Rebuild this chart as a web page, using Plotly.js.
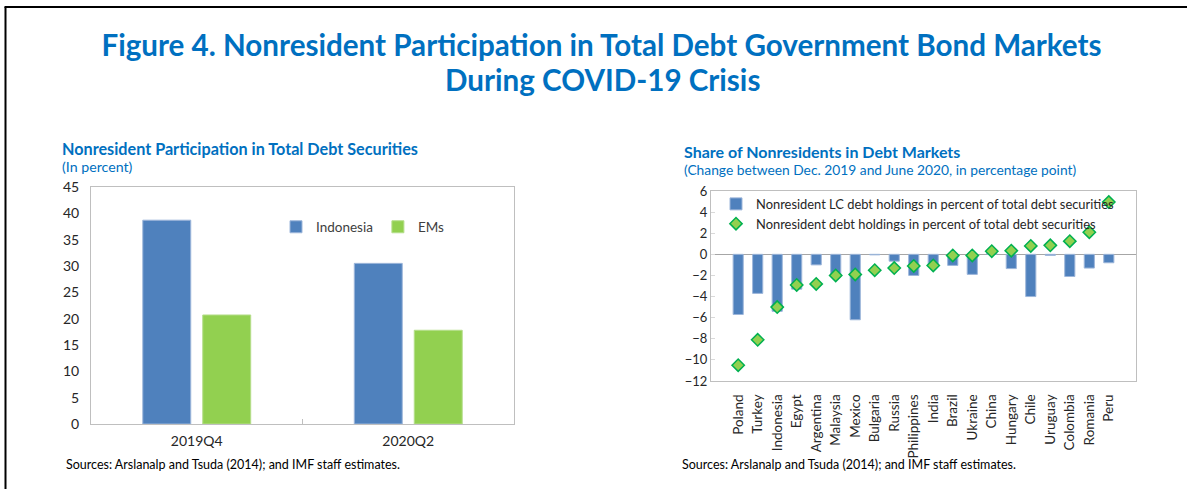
<!DOCTYPE html>
<html>
<head>
<meta charset="utf-8">
<script src="https://cdn.plot.ly/plotly-3.0.1.min.js"></script>
<style>
  html, body { margin: 0; padding: 0; background: #fff; }
  #chart { width: 1187px; height: 489px; }
</style>
</head>
<body>
<div id="chart"></div>
<script>
// ---- Data ----
const periods = ['2019Q4', '2020Q2'];
const indonesiaShare = [38.7, 30.5];
const emsShare = [20.7, 17.8];

const countries = ['Poland', 'Turkey', 'Indonesia', 'Egypt', 'Argentina', 'Malaysia', 'Mexico',
  'Bulgaria', 'Russia', 'Philippines', 'India', 'Brazil', 'Ukraine', 'China', 'Hungary',
  'Chile', 'Uruguay', 'Colombia', 'Romania', 'Peru'];
const lcDebtChange = [-5.7, -3.7, -5.4, -3.3, -1.0, -1.95, -6.2, -0.05, -0.65, -2.0,
  -1.0, -1.05, -1.9, 0.2, -1.35, -4.0, -0.1, -2.1, -1.3, -0.8];
const totalDebtChange = [-10.5, -8.1, -5.0, -2.9, -2.8, -2.0, -1.9, -1.5, -1.3, -1.1,
  -1.05, -0.1, -0.1, 0.3, 0.35, 0.8, 0.85, 1.25, 2.1, 4.95];

const leftTitle = 'Nonresident Participation in Total Debt Securities';
const leftSub = '(In percent)';
const rightTitle = 'Share of Nonresidents in Debt Markets';
const rightSub = '(Change between Dec. 2019 and June 2020, in percentage point)';
const sourceNote = 'Sources: Arslanalp and Tsuda (2014); and IMF staff estimates.';
const mainTitle1 = 'Figure 4. Nonresident Participation in Total Debt Government Bond Markets';
const mainTitle2 = 'During COVID-19 Crisis';

// ---- Style ----
const W = 1187, H = 489;
const FONT = 'Lato, "Open Sans", sans-serif';
const BLUE_T = '#0070C0';
const BAR_BLUE = '#4F81BD';
const BAR_GREEN = '#92D050';
const TXT = '#262626';
const px = v => v / W;
const py = v => 1 - v / H;

const traces = [
  { type: 'bar', x: periods, y: indonesiaShare, name: 'Indonesia', xaxis: 'x', yaxis: 'y',
    marker: { color: BAR_BLUE, line: { color: '#9DB6DA', width: 1 } }, legend: 'legend' },
  { type: 'bar', x: periods, y: emsShare, name: 'EMs', xaxis: 'x', yaxis: 'y',
    marker: { color: BAR_GREEN, line: { color: '#B5DE8A', width: 1 } }, legend: 'legend' },
  { type: 'bar', x: countries, y: lcDebtChange, name: 'Nonresident LC debt holdings in percent of total debt securities',
    xaxis: 'x2', yaxis: 'y2', width: 0.52,
    marker: { color: BAR_BLUE, line: { color: '#9DB6DA', width: 1 } }, legend: 'legend2' },
  { type: 'scatter', mode: 'markers', x: countries, y: totalDebtChange,
    name: 'Nonresident debt holdings in percent of total debt securities',
    xaxis: 'x2', yaxis: 'y2',
    marker: { symbol: 'diamond', size: 9.5, color: BAR_GREEN, line: { color: '#00B050', width: 1.5 } },
    legend: 'legend2' }
];

const axisBase = {
  showline: true, mirror: true, linecolor: '#BFBFBF', linewidth: 1,
  showgrid: false, zeroline: false, fixedrange: true,
  tickfont: { family: FONT, size: 14, color: TXT }
};

const layout = {
  width: W, height: H,
  margin: { l: 0, r: 0, t: 0, b: 0 },
  paper_bgcolor: '#fff', plot_bgcolor: '#fff',
  barmode: 'group', bargap: 0.433, bargroupgap: 0.2,
  font: { family: FONT, color: TXT },
  title: { text: mainTitle1, x: px(601.5), xanchor: 'center', y: py(46), yanchor: 'middle',
    font: { family: FONT, size: 29.6, color: BLUE_T, weight: 'bold' } },
  xaxis: Object.assign({}, axisBase, {
    domain: [px(91), px(514)], anchor: 'y', type: 'category',
    tickson: 'boundaries', ticks: 'inside', ticklen: 5, tickcolor: '#BFBFBF',
    ticklabelstandoff: 4
  }),
  yaxis: Object.assign({}, axisBase, {
    domain: [py(424), py(187)], anchor: 'x', range: [0, 45], dtick: 5, ticks: '',
    ticklabelstandoff: 8
  }),
  xaxis2: Object.assign({}, axisBase, {
    domain: [px(711), px(1136)], anchor: 'y2', type: 'category', ticks: '',
    tickangle: -90, ticklabelstandoff: 7, tickfont: { family: FONT, size: 13.5, color: TXT }
  }),
  yaxis2: Object.assign({}, axisBase, {
    domain: [py(381), py(191)], anchor: 'x2', range: [-12, 6], dtick: 2,
    ticks: 'inside', ticklen: 4, tickcolor: '#D9D9D9',
    zeroline: true, zerolinecolor: '#A6A6A6', zerolinewidth: 1,
    tickfont: { family: FONT, size: 13, color: TXT }
  }),
  legend: {
    orientation: 'h', x: px(276), y: py(227), xanchor: 'left', yanchor: 'middle',
    bgcolor: 'rgba(0,0,0,0)', font: { family: FONT, size: 13.5, color: '#404040' },
    itemwidth: 30, traceorder: 'normal'
  },
  legend2: {
    orientation: 'v', x: px(716), y: py(214), xanchor: 'left', yanchor: 'middle',
    bgcolor: 'rgba(0,0,0,0)', font: { family: FONT, size: 12.9, color: TXT },
    itemwidth: 30, tracegroupgap: 0
  },
  annotations: [
    { text: '<b>' + mainTitle2 + '</b>', xref: 'paper', yref: 'paper', x: px(602.5), y: py(80),
      xanchor: 'center', yanchor: 'middle', showarrow: false, font: { family: FONT, size: 29.6, color: BLUE_T } },
    { text: '<b>' + leftTitle + '</b>', xref: 'paper', yref: 'paper', x: px(60), y: py(148),
      xanchor: 'left', yanchor: 'middle', showarrow: false, font: { family: FONT, size: 16.2, color: BLUE_T } },
    { text: leftSub, xref: 'paper', yref: 'paper', x: px(60), y: py(166),
      xanchor: 'left', yanchor: 'middle', showarrow: false, font: { family: FONT, size: 14.2, color: BLUE_T } },
    { text: '<b>' + rightTitle + '</b>', xref: 'paper', yref: 'paper', x: px(682), y: py(151),
      xanchor: 'left', yanchor: 'middle', showarrow: false, font: { family: FONT, size: 16, color: BLUE_T } },
    { text: rightSub, xref: 'paper', yref: 'paper', x: px(682), y: py(170),
      xanchor: 'left', yanchor: 'middle', showarrow: false, font: { family: FONT, size: 13.8, color: BLUE_T } },
    { text: sourceNote, xref: 'paper', yref: 'paper', x: px(64), y: py(464),
      xanchor: 'left', yanchor: 'middle', showarrow: false, font: { family: FONT, size: 12.5, color: '#000' } },
    { text: sourceNote, xref: 'paper', yref: 'paper', x: px(680), y: py(464),
      xanchor: 'left', yanchor: 'middle', showarrow: false, font: { family: FONT, size: 12.5, color: '#000' } }
  ],
  shapes: [
    { type: 'line', xref: 'paper', yref: 'paper', x0: px(5.5), x1: px(5.5), y0: 0, y1: py(7),
      line: { color: '#000', width: 2 } },
    { type: 'line', xref: 'paper', yref: 'paper', x0: px(4.5), x1: 1, y0: py(7), y1: py(7),
      line: { color: '#000', width: 2 } }
  ],
  showlegend: true
};

Plotly.newPlot('chart', traces, layout, { displayModeBar: false, staticPlot: true });
</script>
</body>
</html>
